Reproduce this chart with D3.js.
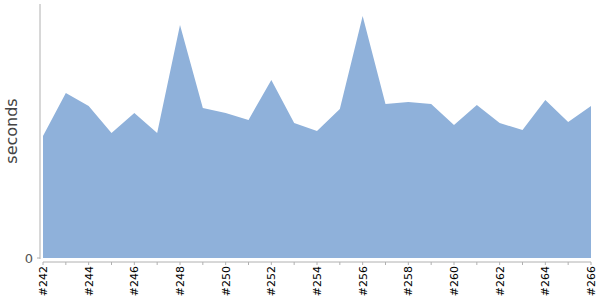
<!DOCTYPE html>
<html>
<head>
<meta charset="utf-8">
<script src="https://cdn.jsdelivr.net/npm/d3@7"></script>
<style>
  body { margin: 0; background: #fff; }
  svg { display: block; font-family: "DejaVu Sans", Verdana, sans-serif; }
</style>
</head>
<body>
<div id="container"></div>
<script>
// build numbers and their durations
var builds = [242, 243, 244, 245, 246, 247, 248, 249, 250, 251, 252, 253, 254,
    255, 256, 257, 258, 259, 260, 261, 262, 263, 264, 265, 266]
var seconds = [122, 165, 152, 125, 145, 125, 233, 150, 145, 138, 178, 135, 127,
    149, 242, 154, 156, 154, 133, 153, 135, 128, 158, 136, 152]
var yMax = 254

var width = 600,
    height = 300

var svg = d3
    .select('#container')
    .append('svg')
    .attr('width', width)
    .attr('height', height)

var x = d3.scaleLinear().domain([242, 266]).range([43, 591])
var y = d3.scaleLinear().domain([0, yMax]).range([258, 4])

var data = builds.map(function(b, i) {
    return { build: b, value: seconds[i] }
})

// area
var area = d3
    .area()
    .x(function(d) { return x(d.build) })
    .y0(y(0))
    .y1(function(d) { return y(d.value) })

svg
    .append('path')
    .datum(data)
    .attr('d', area)
    .style('fill', '#8fb1da')

// y axis
svg
    .append('line')
    .attr('x1', 40)
    .attr('x2', 40)
    .attr('y1', y(yMax))
    .attr('y2', y(0) + 1)
    .style('stroke', '#b0b0b0')

svg
    .append('line')
    .attr('x1', 37)
    .attr('x2', 40)
    .attr('y1', y(0))
    .attr('y2', y(0))
    .style('stroke', '#b0b0b0')

svg
    .append('text')
    .attr('x', 33)
    .attr('y', y(0))
    .attr('dy', '.35em')
    .attr('text-anchor', 'end')
    .style('font-size', '13px')
    .style('fill', '#555')
    .text('0')

svg
    .append('text')
    .attr('transform', 'translate(17,' + 131 + ') rotate(-90)')
    .attr('text-anchor', 'middle')
    .style('font-size', '16px')
    .style('fill', '#444')
    .text('seconds')

// x axis
var xAxis = svg
    .append('g')
    .attr('transform', 'translate(0,262)')

xAxis
    .append('line')
    .attr('x1', x(242))
    .attr('x2', x(266))
    .style('stroke', '#b0b0b0')

xAxis
    .selectAll('.tick')
    .data(builds)
    .enter()
    .append('line')
    .attr('class', 'tick')
    .attr('x1', function(d) { return x(d) })
    .attr('x2', function(d) { return x(d) })
    .attr('y1', 0)
    .attr('y2', 3)
    .style('stroke', '#b0b0b0')

xAxis
    .selectAll('.label')
    .data(builds.filter(function(d) { return d % 2 === 0 }))
    .enter()
    .append('text')
    .attr('class', 'label')
    .attr('transform', function(d) {
        return 'translate(' + (x(d) + 4) + ',4) rotate(-90)'
    })
    .attr('text-anchor', 'end')
    .style('font-size', '11px')
    .style('fill', '#000')
    .text(function(d) { return '#' + d })
</script>
</body>
</html>
